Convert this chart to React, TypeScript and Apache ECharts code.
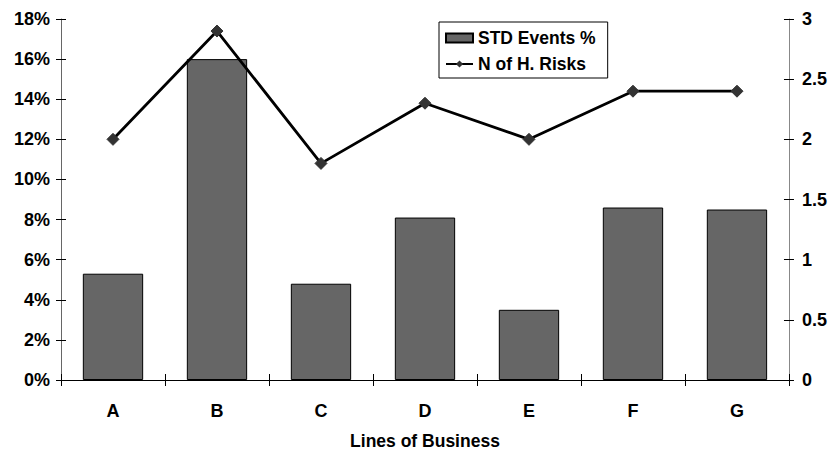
import React, { useEffect, useRef } from "react";
import * as echarts from "echarts";

const categories = ["A", "B", "C", "D", "E", "F", "G"];
const stdEvents = [5.3, 16.0, 4.8, 8.1, 3.5, 8.6, 8.5];
const hRisks = [2.0, 2.9, 1.8, 2.3, 2.0, 2.4, 2.4];

const FONT = "'Liberation Sans', Arial, sans-serif";

export default function App() {
  const ref = useRef<HTMLDivElement>(null);
  useEffect(() => {
    if (!ref.current) return;
    const chart = echarts.init(ref.current, null, { renderer: "svg" });
    const leftAxisBase = {
      type: "value",
      min: 0,
      max: 18,
      interval: 2,
      position: "left",
      splitLine: { show: false },
    };
    const rightAxisBase = {
      type: "value",
      min: 0,
      max: 3,
      interval: 0.5,
      position: "right",
      splitLine: { show: false },
    };
    chart.setOption({
      animation: false,
      textStyle: { fontFamily: FONT },
      grid: { left: 61, right: 40, top: 19, bottom: 75 },
      legend: {
        orient: "vertical",
        left: 439,
        top: 22,
        padding: [7, 12, 5, 6],
        itemGap: 8,
        itemWidth: 27,
        itemHeight: 9,
        borderColor: "#000",
        borderWidth: 1,
        textStyle: { fontFamily: FONT, fontWeight: "bold", fontSize: 17.5, color: "#000" },
        data: [
          { name: "STD Events %", icon: "rect" },
          { name: "N of H. Risks" },
        ],
      },
      xAxis: [
        {
          type: "category",
          data: categories,
          position: "bottom",
          name: "Lines of Business",
          nameLocation: "middle",
          nameGap: 52,
          nameTextStyle: { fontFamily: FONT, fontWeight: "bold", fontSize: 17.5, color: "#000" },
          axisLine: { lineStyle: { color: "#000", width: 1 } },
          axisTick: { show: true, length: 6, lineStyle: { color: "#000" } },
          axisLabel: { fontFamily: FONT, fontWeight: "bold", fontSize: 18, color: "#000", margin: 22 },
        },
        {
          type: "category",
          data: categories,
          position: "bottom",
          axisLine: { show: false },
          axisTick: { show: true, inside: true, length: 6, lineStyle: { color: "#000" } },
          axisLabel: { show: false },
        },
      ],
      yAxis: [
        {
          ...leftAxisBase,
          axisLine: { show: true, lineStyle: { color: "#666", width: 1 } },
          axisTick: { show: true, length: 5, lineStyle: { color: "#000" } },
          axisLabel: {
            fontFamily: FONT,
            fontWeight: "bold",
            fontSize: 18,
            color: "#000",
            margin: 11,
            formatter: (v: number) => v + "%",
          },
        },
        {
          ...rightAxisBase,
          axisLine: { show: true, lineStyle: { color: "#888", width: 1 } },
          axisTick: { show: true, length: 5, lineStyle: { color: "#000" } },
          axisLabel: {
            fontFamily: FONT,
            fontWeight: "bold",
            fontSize: 18,
            color: "#000",
            margin: 13,
          },
        },
        {
          ...leftAxisBase,
          axisLine: { show: false },
          axisTick: { show: true, inside: true, length: 5, lineStyle: { color: "#000" } },
          axisLabel: { show: false },
        },
        {
          ...rightAxisBase,
          axisLine: { show: false },
          axisTick: { show: true, inside: true, length: 5, lineStyle: { color: "#000" } },
          axisLabel: { show: false },
        },
      ],
      series: [
        {
          name: "STD Events %",
          type: "bar",
          xAxisIndex: 0,
          yAxisIndex: 0,
          data: stdEvents,
          barWidth: "58%",
          itemStyle: { color: "#666666", borderColor: "#000", borderWidth: 1 },
          z: 2,
        },
        {
          name: "N of H. Risks",
          type: "line",
          xAxisIndex: 0,
          yAxisIndex: 1,
          data: hRisks,
          symbol: "diamond",
          symbolSize: 12,
          lineStyle: { color: "#000", width: 2.8 },
          itemStyle: { color: "#333333", borderColor: "#333333" },
          z: 3,
        },
      ],
    });
    return () => chart.dispose();
  }, []);
  return <div ref={ref} style={{ width: 830, height: 455, position: "absolute", left: 0, top: 0 }} />;
}
